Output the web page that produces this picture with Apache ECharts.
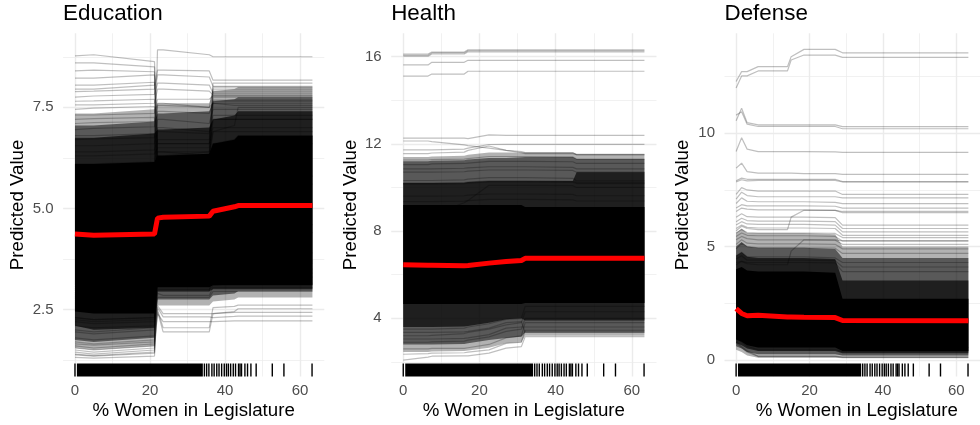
<!DOCTYPE html>
<html>
<head>
<meta charset="utf-8">
<script src="https://cdn.jsdelivr.net/npm/echarts@6/dist/echarts.min.js"></script>
<style>
html,body{margin:0;padding:0;background:#fff;}
#chart{width:980px;height:425px;}
</style>
</head>
<body>
<div id="chart"></div>
<script>
// ---------------- DATA ----------------
const xMajorTicks = [0, 20, 40, 60];
const xMinorTicks = [10, 30, 50];
// rug: one dense run of observations plus individual observations
const rugDense = [[0.7, 33.9]];
const rugTicks = [0, 34.5, 35.1, 35.7, 36.5, 37.1, 37.8, 38.4, 39.1, 39.8, 40.4, 40.9, 41.5, 42.2, 42.8, 43.6, 44.0, 44.4, 45.3, 46.0, 46.9, 48.3, 52.6, 55.7, 63.2];

// ---- Education ----
const eduX = [0, 5, 21.2, 22.0, 23.5, 35.8, 36.8, 42.5, 43.5, 63.3];
const eduYMajor = [2.5, 5.0, 7.5];
const eduYMinor = [1.25, 3.75, 6.25, 8.75];
const eduMean = [4.37, 4.34, 4.37, 4.76, 4.78, 4.81, 4.93, 5.04, 5.07, 5.07];
// envelopes of the dense mass of curves (outer -> core)
const eduOuterU = [7.35, 7.35, 7.45, 7.60, 7.60, 7.60, 7.90, 7.95, 8.00, 8.00];
const eduOuterL = [1.55, 1.50, 1.60, 2.60, 2.60, 2.60, 2.70, 2.75, 2.80, 2.80];
const eduMidU = [7.05, 7.05, 7.15, 7.35, 7.35, 7.40, 7.65, 7.70, 7.75, 7.75];
const eduMidL = [1.75, 1.70, 1.80, 2.75, 2.75, 2.75, 2.85, 2.90, 2.95, 2.95];
const eduInnerU = [6.75, 6.75, 6.85, 6.95, 6.95, 7.00, 7.20, 7.30, 7.40, 7.40];
const eduInnerL = [2.10, 2.00, 2.05, 2.95, 2.95, 2.95, 3.00, 3.00, 3.00, 3.00];
const eduCoreU = [6.10, 6.10, 6.15, 6.30, 6.30, 6.35, 6.60, 6.70, 6.80, 6.80];
const eduCoreL = [2.45, 2.40, 2.40, 3.05, 3.05, 3.05, 3.10, 3.10, 3.10, 3.10];
const eduLines = [
  [8.77, 8.80, 8.63, 6.60, 6.60, 6.60, 7.00, 7.00, 7.00, 7.00],
  [6.00, 6.00, 6.10, 8.92, 8.92, 8.80, 8.75, 8.75, 8.75, 8.75],
  [8.60, 8.60, 8.50, 6.40, 6.40, 6.40, 7.20, 7.20, 7.20, 7.20],
  [8.22, 8.22, 8.30, 6.20, 6.20, 6.20, 6.90, 6.90, 6.90, 6.90],
  [8.05, 8.05, 8.12, 6.00, 6.00, 6.00, 6.60, 6.60, 6.60, 6.60],
  [7.95, 7.95, 8.05, 8.42, 8.42, 8.40, 8.17, 8.17, 8.17, 8.17],
  [7.89, 7.90, 7.95, 8.30, 8.30, 8.25, 8.02, 8.02, 8.02, 8.02],
  [7.75, 7.78, 7.82, 8.10, 8.10, 8.05, 7.85, 7.85, 7.85, 7.85],
  [7.56, 7.56, 7.60, 7.95, 7.95, 7.90, 7.80, 7.80, 7.80, 7.80],
  [7.45, 7.48, 7.52, 5.80, 5.80, 5.90, 7.68, 7.68, 7.68, 7.68],
  [7.31, 7.31, 7.35, 7.70, 7.70, 7.70, 7.78, 7.78, 7.78, 7.78],
  [7.10, 7.12, 7.15, 7.55, 7.55, 7.50, 7.95, 7.95, 7.95, 7.95],
  [6.95, 6.98, 7.02, 7.40, 7.40, 7.35, 7.60, 7.55, 7.55, 7.55],
  [6.70, 6.72, 6.75, 7.20, 7.20, 7.10, 7.45, 7.45, 7.45, 7.45],
  [6.55, 6.55, 6.60, 6.90, 6.90, 6.85, 7.30, 7.30, 7.30, 7.30],
  [6.30, 6.30, 6.35, 6.50, 6.50, 6.50, 8.10, 8.10, 8.10, 8.10],
  [5.90, 5.90, 6.00, 6.30, 6.30, 6.30, 7.90, 7.90, 7.90, 7.90],
  [5.50, 5.50, 5.60, 6.10, 6.10, 6.10, 7.65, 7.65, 7.65, 7.65],
  [5.70, 5.70, 5.80, 6.30, 6.30, 6.40, 6.90, 7.05, 7.50, 7.50],
  [6.40, 6.40, 6.45, 6.70, 6.70, 6.70, 7.75, 7.75, 7.75, 7.75],
  [6.10, 6.10, 6.15, 6.60, 6.60, 6.60, 8.00, 8.00, 8.00, 8.00],
  [6.80, 6.80, 6.85, 3.40, 3.40, 3.40, 3.50, 3.50, 3.50, 3.50],
  [7.20, 7.22, 7.25, 4.20, 4.20, 4.20, 4.40, 4.40, 4.40, 4.40],
  [8.40, 8.42, 8.38, 5.20, 5.20, 5.20, 5.60, 5.60, 5.60, 5.60],
  [7.65, 7.66, 7.70, 3.80, 3.80, 3.80, 3.90, 3.90, 3.90, 3.90],
  [1.50, 1.45, 1.55, 5.60, 5.60, 5.60, 5.80, 5.80, 5.80, 5.80],
  [1.60, 1.55, 1.65, 6.40, 6.40, 6.30, 6.60, 6.70, 6.80, 6.80],
  [2.30, 2.25, 2.30, 7.00, 7.00, 6.90, 7.20, 7.20, 7.20, 7.20],
  [1.40, 1.36, 1.45, 7.60, 7.60, 7.50, 7.60, 7.60, 7.60, 7.60],
  [1.70, 1.65, 1.75, 3.30, 3.30, 3.30, 3.40, 3.40, 3.40, 3.40],
  [2.25, 2.20, 2.25, 2.95, 2.95, 2.95, 3.60, 3.60, 3.65, 3.65],
  [1.45, 1.40, 1.50, 2.45, 1.95, 1.95, 2.40, 2.45, 2.52, 2.52],
  [1.55, 1.50, 1.60, 2.50, 2.05, 2.05, 2.55, 2.58, 2.61, 2.61],
  [1.65, 1.62, 1.70, 2.40, 2.20, 2.20, 2.20, 2.22, 2.22, 2.22],
  [1.80, 1.75, 1.85, 2.55, 2.32, 2.32, 2.30, 2.33, 2.34, 2.34],
  [1.95, 1.90, 2.00, 2.60, 2.40, 2.40, 2.40, 2.43, 2.43, 2.43],
  [2.10, 2.05, 2.10, 3.00, 3.00, 3.00, 3.10, 3.15, 3.15, 3.15],
  [1.32, 1.30, 1.35, 2.90, 2.85, 2.85, 3.05, 3.05, 3.05, 3.05],
  [2.30, 2.25, 2.30, 3.20, 3.20, 3.20, 3.30, 3.30, 3.30, 3.30],
  [2.20, 2.15, 2.20, 2.80, 2.80, 2.80, 2.95, 2.95, 2.95, 2.95],
  [1.38, 1.35, 1.42, 4.50, 4.50, 4.50, 4.60, 4.60, 4.60, 4.60],
  [2.00, 1.95, 2.05, 3.60, 3.60, 3.60, 3.70, 3.70, 3.70, 3.70]
];

// ---- Health ----
const healthX = [0, 6.5, 7.5, 16, 17, 22.5, 27, 31, 32, 44.5, 45.5, 63.3];
const healthYMajor = [4, 8, 12, 16];
const healthYMinor = [2, 6, 10, 14];
const healthMean = [6.45, 6.43, 6.43, 6.41, 6.42, 6.53, 6.60, 6.65, 6.75, 6.75, 6.75, 6.75];
const healthOuterU = [11.40, 11.40, 11.42, 11.45, 11.50, 11.60, 11.60, 11.60, 11.60, 11.60, 11.55, 11.55];
const healthOuterL = [2.45, 2.45, 2.48, 2.50, 2.52, 2.65, 2.85, 2.90, 3.20, 3.20, 3.20, 3.20];
const healthMidU = [11.20, 11.20, 11.22, 11.25, 11.28, 11.35, 11.35, 11.38, 11.40, 11.40, 11.30, 11.30];
const healthMidL = [2.80, 2.80, 2.80, 2.82, 2.85, 3.00, 3.10, 3.15, 3.35, 3.35, 3.35, 3.35];
const healthInnerU = [10.20, 10.20, 10.20, 10.22, 10.25, 10.30, 10.30, 10.30, 10.30, 10.30, 10.70, 10.70];
const healthInnerL = [3.60, 3.60, 3.60, 3.62, 3.65, 3.80, 3.95, 4.00, 3.90, 3.90, 3.90, 3.90];
const healthCoreU = [9.20, 9.20, 9.20, 9.20, 9.20, 9.20, 9.20, 9.20, 9.10, 9.10, 9.10, 9.10];
const healthCoreL = [4.65, 4.65, 4.65, 4.65, 4.65, 4.65, 4.65, 4.65, 4.70, 4.70, 4.70, 4.70];
const healthLines = [
  [16.02, 16.02, 16.12, 16.12, 16.22, 16.22, 16.22, 16.22, 16.22, 16.22, 16.22, 16.22],
  [16.07, 16.07, 16.17, 16.17, 16.27, 16.27, 16.27, 16.27, 16.27, 16.27, 16.27, 16.27],
  [16.12, 16.12, 16.21, 16.21, 16.31, 16.31, 16.31, 16.31, 16.31, 16.31, 16.31, 16.31],
  [15.62, 15.62, 15.74, 15.74, 15.83, 15.83, 15.83, 15.83, 15.83, 15.83, 15.83, 15.83],
  [15.11, 15.11, 15.20, 15.20, 15.33, 15.33, 15.33, 15.33, 15.33, 15.33, 15.33, 15.33],
  [12.26, 12.26, 12.26, 12.26, 12.24, 12.41, 12.39, 12.39, 12.39, 12.39, 12.39, 12.39],
  [12.13, 12.13, 12.10, 11.95, 11.92, 11.80, 11.70, 11.65, 11.60, 11.60, 11.50, 11.50],
  [11.72, 11.72, 11.72, 11.76, 11.80, 11.97, 11.98, 11.98, 11.98, 11.98, 11.98, 11.98],
  [11.55, 11.55, 11.58, 11.62, 11.70, 11.90, 11.70, 11.60, 11.55, 11.55, 11.50, 11.50],
  [11.26, 11.26, 11.28, 11.30, 11.32, 11.42, 11.42, 11.42, 11.42, 11.40, 11.30, 11.30],
  [11.05, 11.05, 11.08, 11.10, 11.12, 11.20, 11.20, 11.20, 11.20, 11.18, 11.10, 11.10],
  [10.85, 10.85, 10.85, 10.88, 10.90, 10.95, 10.95, 10.95, 10.95, 10.92, 10.85, 10.85],
  [10.70, 10.70, 10.70, 10.72, 10.75, 10.80, 10.80, 10.80, 10.80, 10.78, 10.70, 10.70],
  [10.32, 10.32, 10.32, 10.35, 10.38, 10.45, 10.45, 10.45, 10.45, 10.42, 10.30, 10.30],
  [10.20, 10.20, 10.20, 10.22, 10.25, 10.30, 10.30, 10.30, 10.30, 10.28, 10.22, 10.22],
  [10.15, 10.15, 10.15, 10.17, 10.20, 10.25, 10.25, 10.25, 10.25, 10.23, 10.18, 10.18],
  [9.60, 9.60, 9.60, 9.62, 9.65, 9.70, 9.70, 9.70, 9.70, 9.68, 9.62, 9.62],
  [9.35, 9.35, 9.35, 9.37, 9.40, 9.45, 9.45, 9.45, 9.45, 9.43, 9.38, 9.38],
  [8.70, 8.70, 8.75, 9.30, 9.40, 10.10, 10.10, 10.10, 10.10, 10.08, 10.00, 10.00],
  [2.08, 2.22, 2.26, 2.28, 2.28, 2.40, 2.63, 2.70, 3.16, 3.16, 3.16, 3.16],
  [2.35, 2.38, 2.40, 2.42, 2.45, 2.55, 2.85, 2.90, 3.45, 3.45, 3.45, 3.45],
  [2.60, 2.60, 2.62, 2.62, 2.65, 2.80, 3.10, 3.20, 3.80, 3.80, 3.80, 3.80],
  [2.90, 2.90, 2.92, 2.95, 3.00, 3.15, 3.40, 3.50, 4.00, 4.00, 4.00, 4.00],
  [3.20, 3.20, 3.22, 3.30, 3.35, 3.50, 3.70, 3.80, 4.30, 4.30, 4.30, 4.30],
  [3.50, 3.50, 3.50, 3.55, 3.60, 3.75, 3.95, 4.00, 4.55, 4.55, 4.55, 4.55],
  [3.05, 3.05, 3.05, 3.08, 3.10, 3.25, 3.55, 3.60, 3.60, 3.60, 3.60, 3.60],
  [3.35, 3.35, 3.35, 3.38, 3.40, 3.55, 3.80, 3.85, 3.35, 3.35, 3.35, 3.35]
];

// ---- Defense ----
const defX = [0, 1.5, 3, 6, 14, 15, 18.5, 27, 29, 63.3];
const defYMajor = [0, 5, 10];
const defYMinor = [2.5, 7.5, 12.5];
const defMean = [2.26, 2.05, 1.95, 1.97, 1.90, 1.90, 1.88, 1.87, 1.74, 1.73];
const defOuterU = [5.60, 5.80, 5.60, 5.60, 5.60, 5.60, 5.60, 5.55, 5.00, 5.00];
const defOuterL = [0.45, 0.35, 0.20, 0.10, 0.10, 0.10, 0.10, 0.10, 0.08, 0.08];
const defMidU = [5.00, 5.20, 5.00, 4.95, 4.95, 4.95, 4.95, 4.90, 4.50, 4.50];
const defMidL = [0.60, 0.50, 0.35, 0.25, 0.25, 0.25, 0.25, 0.25, 0.20, 0.20];
const defInnerU = [4.60, 4.75, 4.55, 4.50, 4.50, 4.50, 4.50, 4.45, 3.50, 3.50];
const defInnerL = [0.75, 0.65, 0.50, 0.40, 0.40, 0.40, 0.40, 0.40, 0.30, 0.30];
const defCoreU = [4.00, 4.10, 3.95, 3.90, 3.90, 3.90, 3.90, 3.85, 2.70, 2.70];
const defCoreL = [0.90, 0.80, 0.65, 0.55, 0.55, 0.55, 0.55, 0.55, 0.40, 0.40];
const defLines = [
  [12.28, 12.72, 12.72, 12.94, 12.94, 13.38, 13.70, 13.70, 13.55, 13.55],
  [12.00, 12.53, 12.53, 12.75, 12.75, 13.23, 13.45, 13.45, 13.35, 13.35],
  [10.55, 11.10, 10.47, 10.37, 10.37, 10.37, 10.37, 10.37, 10.29, 10.29],
  [10.80, 10.95, 10.40, 10.30, 10.30, 10.30, 10.30, 10.30, 10.20, 10.20],
  [9.20, 9.80, 9.30, 9.19, 9.19, 9.19, 9.19, 9.18, 9.16, 9.16],
  [8.46, 8.68, 8.31, 8.24, 8.24, 8.24, 8.22, 8.22, 8.19, 8.19],
  [7.90, 8.02, 7.97, 7.97, 7.97, 7.97, 7.97, 7.97, 7.87, 7.87],
  [7.85, 7.95, 7.90, 7.92, 7.92, 7.92, 7.92, 7.92, 7.85, 7.85],
  [7.30, 7.60, 7.50, 7.45, 7.45, 7.45, 7.45, 7.45, 7.30, 7.30],
  [7.10, 7.40, 7.25, 7.20, 7.20, 7.20, 7.20, 7.20, 7.15, 7.15],
  [6.90, 7.15, 7.00, 6.98, 6.98, 6.98, 6.98, 6.95, 6.90, 6.90],
  [6.70, 6.85, 6.80, 6.80, 6.80, 6.80, 6.80, 6.78, 6.70, 6.70],
  [6.55, 6.70, 6.65, 6.62, 6.62, 6.62, 6.62, 6.60, 6.55, 6.55],
  [6.30, 6.45, 6.32, 6.30, 6.30, 6.30, 6.30, 6.28, 5.95, 5.95],
  [5.70, 5.90, 5.80, 5.75, 5.75, 6.30, 6.60, 6.60, 6.50, 6.50],
  [6.10, 6.25, 6.15, 6.12, 6.12, 6.12, 6.12, 6.10, 5.80, 5.80],
  [5.95, 6.10, 6.00, 5.98, 5.98, 5.98, 5.98, 5.95, 5.65, 5.65],
  [5.80, 5.95, 5.85, 5.82, 5.82, 5.82, 5.82, 5.80, 5.50, 5.50],
  [5.30, 5.45, 5.35, 5.30, 5.30, 5.30, 5.30, 5.28, 5.10, 5.10],
  [5.45, 5.60, 5.50, 5.48, 5.48, 5.48, 5.48, 5.45, 5.25, 5.25],
  [4.20, 4.35, 4.25, 4.20, 4.20, 4.80, 5.30, 5.30, 5.25, 5.25],
  [4.90, 5.15, 5.00, 4.95, 4.95, 4.95, 4.95, 4.93, 4.70, 4.70],
  [5.60, 5.75, 5.62, 5.60, 5.60, 5.60, 5.60, 5.58, 5.40, 5.40],
  [5.10, 5.30, 5.15, 5.12, 5.12, 5.12, 5.12, 5.10, 4.90, 4.90],
  [4.45, 4.60, 4.40, 4.40, 4.40, 4.40, 4.40, 4.38, 4.10, 4.10],
  [4.30, 4.35, 4.30, 4.30, 4.30, 4.30, 4.30, 4.28, 3.90, 3.90],
  [4.60, 4.75, 4.55, 4.55, 4.55, 4.55, 4.55, 4.50, 4.30, 4.30],
  [0.75, 0.55, 0.35, 0.15, 0.15, 0.15, 0.15, 0.15, 0.12, 0.12],
  [0.80, 0.60, 0.40, 0.17, 0.17, 0.17, 0.17, 0.17, 0.12, 0.12],
  [0.95, 0.80, 0.60, 0.45, 0.45, 0.45, 0.45, 0.45, 0.38, 0.38],
  [1.10, 1.00, 0.85, 0.65, 0.65, 0.65, 0.65, 0.65, 0.55, 0.55]
];

// ---------------- LAYOUT / STYLE ----------------
const FONT = '"Liberation Sans", Arial, Helvetica, sans-serif';
const PANEL_TOP = 33.3, PANEL_H = 343.2;
const RUG_TOP = 363.5, RUG_H = 13;
const XMIN = -3.165, XMAX = 66.465;
const GRID_COLOR = '#EBEBEB';
const LINE_COLOR = 'rgba(0,0,0,0.25)';
const LAYER_FILLS = ['rgba(0,0,0,0.3)', 'rgba(0,0,0,0.5)', 'rgba(0,0,0,0.65)', '#000000'];

const panels = [
  {title: 'Education', xs: eduX, mean: eduMean, lines: eduLines,
   layers: [[eduOuterU, eduOuterL], [eduMidU, eduMidL], [eduInnerU, eduInnerL], [eduCoreU, eduCoreL]],
   yMajor: eduYMajor, yMinor: eduYMinor, fmt: v => Number(v).toFixed(1),
   left: 63.1, width: 261.2, ymin: 0.845, ymax: 9.33, ytitleX: 17.5},
  {title: 'Health', xs: healthX, mean: healthMean, lines: healthLines,
   layers: [[healthOuterU, healthOuterL], [healthMidU, healthMidL], [healthInnerU, healthInnerL], [healthCoreU, healthCoreL]],
   yMajor: healthYMajor, yMinor: healthYMinor, fmt: v => String(v),
   left: 391.2, width: 265.3, ymin: 1.33, ymax: 17.07, ytitleX: 350.5},
  {title: 'Defense', xs: defX, mean: defMean, lines: defLines,
   layers: [[defOuterU, defOuterL], [defMidU, defMidL], [defInnerU, defInnerL], [defCoreU, defCoreL]],
   yMajor: defYMajor, yMinor: defYMinor, fmt: v => String(v),
   left: 724.5, width: 264.6, ymin: -0.73, ymax: 14.41, ytitleX: 682.5}
];

function bandSeries(xs, up, lo, color, xi, yi, z) {
  return {
    type: 'custom', xAxisIndex: xi, yAxisIndex: yi, z: z, silent: true,
    data: [[xs[0], lo[0]]],
    renderItem: function (params, api) {
      const pts = [];
      for (let k = 0; k < xs.length; k++) pts.push(api.coord([xs[k], up[k]]));
      for (let k = xs.length - 1; k >= 0; k--) pts.push(api.coord([xs[k], lo[k]]));
      return {type: 'polygon', shape: {points: pts}, style: {fill: color}};
    }
  };
}

const grid = [], xAxis = [], yAxis = [], series = [], graphic = [];

panels.forEach(function (p, i) {
  grid.push({left: p.left, top: PANEL_TOP, width: p.width, height: PANEL_H, containLabel: false});
  grid.push({left: p.left, top: RUG_TOP, width: p.width, height: RUG_H, containLabel: false});
  const gMain = 2 * i, gRug = 2 * i + 1;
  const xa = 3 * i, ya = 3 * i;

  xAxis.push({
    gridIndex: gMain, type: 'value', min: XMIN, max: XMAX,
    axisLine: {show: false},
    axisTick: {show: false, customValues: xMajorTicks},
    axisLabel: {customValues: xMajorTicks, color: '#4D4D4D', fontSize: 15, fontFamily: FONT, margin: 7},
    splitLine: {show: true, lineStyle: {color: GRID_COLOR, width: 1.4}}
  });
  xAxis.push({
    gridIndex: gMain, type: 'value', position: 'top', min: XMIN, max: XMAX,
    axisLine: {show: false},
    axisTick: {show: false, customValues: xMinorTicks},
    axisLabel: {show: false},
    splitLine: {show: true, lineStyle: {color: GRID_COLOR, width: 0.7}}
  });
  xAxis.push({gridIndex: gRug, type: 'value', min: XMIN, max: XMAX, show: false});

  yAxis.push({
    gridIndex: gMain, type: 'value', min: p.ymin, max: p.ymax,
    axisLine: {show: false},
    axisTick: {show: false, customValues: p.yMajor},
    axisLabel: {customValues: p.yMajor, formatter: p.fmt, color: '#4D4D4D', fontSize: 15, fontFamily: FONT, margin: 9.5},
    splitLine: {show: true, lineStyle: {color: GRID_COLOR, width: 1.4}}
  });
  yAxis.push({
    gridIndex: gMain, type: 'value', position: 'right', min: p.ymin, max: p.ymax,
    axisLine: {show: false},
    axisTick: {show: false, customValues: p.yMinor},
    axisLabel: {show: false},
    splitLine: {show: true, lineStyle: {color: GRID_COLOR, width: 0.7}}
  });
  yAxis.push({gridIndex: gRug, type: 'value', min: 0, max: 1, show: false});

  // dense mass of ICE curves, drawn as nested envelopes
  p.layers.forEach(function (ly, k) {
    series.push(bandSeries(p.xs, ly[0], ly[1], LAYER_FILLS[k], xa, ya, 1 + k * 0.1));
  });
  // individual ICE curves
  p.lines.forEach(function (arr) {
    series.push({
      type: 'line', xAxisIndex: xa, yAxisIndex: ya, z: 3, silent: true,
      symbol: 'none', showSymbol: false,
      data: p.xs.map(function (x, k) { return [x, arr[k]]; }),
      lineStyle: {color: LINE_COLOR, width: 1.2}
    });
  });
  // average (PDP) curve
  series.push({
    type: 'line', xAxisIndex: xa, yAxisIndex: ya, z: 5, silent: true,
    symbol: 'none', showSymbol: false,
    data: p.xs.map(function (x, k) { return [x, p.mean[k]]; }),
    lineStyle: {color: '#FF0000', width: 5}
  });
  // rug
  series.push({
    type: 'custom', xAxisIndex: xa + 2, yAxisIndex: ya + 2, z: 4, silent: true,
    data: rugDense.map(function (r) { return [r[0], 0.5, r[1]]; }),
    encode: {x: [0, 2], y: 1},
    renderItem: function (params, api) {
      const a = api.coord([api.value(0), 0]);
      const b = api.coord([api.value(2), 1]);
      return {type: 'rect', shape: {x: a[0] - 0.7, y: b[1], width: b[0] - a[0] + 1.4, height: a[1] - b[1]}, style: {fill: '#000'}};
    }
  });
  series.push({
    type: 'custom', xAxisIndex: xa + 2, yAxisIndex: ya + 2, z: 4, silent: true,
    data: rugTicks.map(function (v) { return [v, 0.5]; }),
    renderItem: function (params, api) {
      const a = api.coord([api.value(0), 0]);
      const b = api.coord([api.value(0), 1]);
      return {type: 'rect', shape: {x: a[0] - 0.7, y: b[1], width: 1.4, height: a[1] - b[1]}, style: {fill: '#000'}};
    }
  });

  // titles and axis titles
  graphic.push({type: 'text', x: p.left, y: 14.3, silent: true,
    style: {text: p.title, fontSize: 22.4, fontFamily: FONT, fill: '#000', align: 'left', verticalAlign: 'middle'}});
  graphic.push({type: 'text', x: p.left + p.width / 2, y: 411.2, silent: true,
    style: {text: '% Women in Legislature', fontSize: 18.7, fontFamily: FONT, fill: '#000', align: 'center', verticalAlign: 'middle'}});
  graphic.push({type: 'text', x: p.ytitleX, y: PANEL_TOP + PANEL_H / 2, rotation: Math.PI / 2, silent: true,
    style: {text: 'Predicted Value', fontSize: 18.7, fontFamily: FONT, fill: '#000', align: 'center', verticalAlign: 'middle'}});
});

const chart = echarts.init(document.getElementById('chart'), null, {renderer: 'canvas'});
chart.setOption({
  animation: false,
  backgroundColor: '#ffffff',
  grid: grid, xAxis: xAxis, yAxis: yAxis, series: series, graphic: graphic
});
</script>
</body>
</html>
